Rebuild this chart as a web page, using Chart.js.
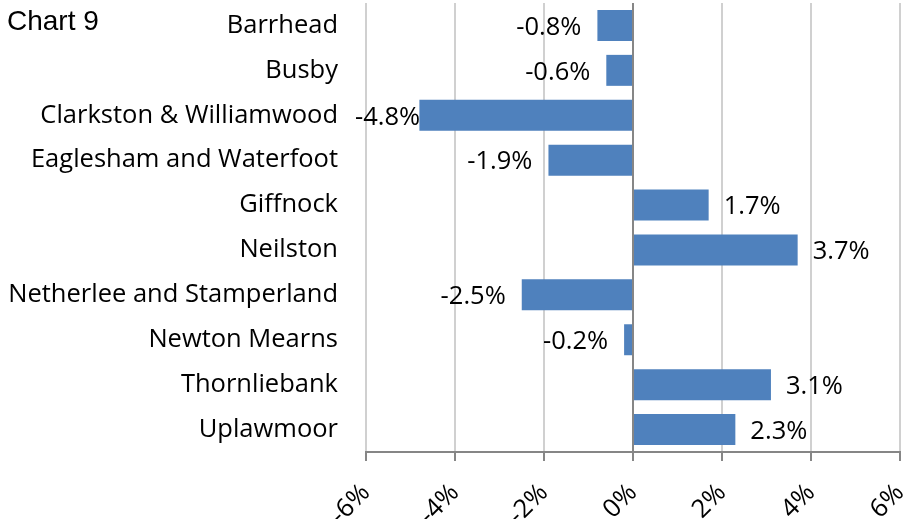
<!DOCTYPE html>
<html>
<head>
<meta charset="utf-8">
<script src="https://cdn.jsdelivr.net/npm/chart.js@4"></script>
<style>
  html, body { margin: 0; padding: 0; background: #fff; }
  #wrap { width: 904px; height: 519px; position: relative; }
</style>
</head>
<body>
<div id="wrap"><canvas id="chart"></canvas></div>
<script>
var areas = ['Barrhead', 'Busby', 'Clarkston & Williamwood', 'Eaglesham and Waterfoot', 'Giffnock',
             'Neilston', 'Netherlee and Stamperland', 'Newton Mearns', 'Thornliebank', 'Uplawmoor'];
var change = [-0.8, -0.6, -4.8, -1.9, 1.7, 3.7, -2.5, -0.2, 3.1, 2.3];
var xTicks = [-6, -4, -2, 0, 2, 4, 6];

var fontFamily = '"Open Sans", "Noto Sans", sans-serif';
var labelFont = '25.5px ' + fontFamily;

// value labels next to bar ends, plus the "Chart 9" caption
var barLabels = {
    id: 'barLabels',
    afterDatasetsDraw: function(chart) {
        var ctx = chart.ctx;
        var meta = chart.getDatasetMeta(0);
        ctx.save();
        ctx.font = labelFont;
        ctx.fillStyle = '#000';
        ctx.textBaseline = 'middle';
        meta.data.forEach(function(bar, i) {
            var v = change[i];
            var txt = v.toFixed(1) + '%';
            if (v < 0) {
                var w = ctx.measureText(txt).width;
                var x = Math.max(bar.x - 16, chart.chartArea.left - 11 + w);
                ctx.textAlign = 'right';
                ctx.fillText(txt, x, bar.y + 2);
            } else {
                ctx.textAlign = 'left';
                ctx.fillText(txt, bar.x + 15, bar.y + 2);
            }
        });
        ctx.font = '28px "Liberation Sans", Arial, sans-serif';
        ctx.textAlign = 'left';
        ctx.textBaseline = 'alphabetic';
        ctx.fillText('Chart 9', 7, 30);
        ctx.restore();
    }
};

new Chart(document.getElementById('chart'), {
    type: 'bar',
    data: {
        labels: areas,
        datasets: [{
            data: change,
            backgroundColor: '#4f81bd',
            borderWidth: 0,
            barPercentage: 0.69,
            categoryPercentage: 1.0
        }]
    },
    options: {
        indexAxis: 'y',
        responsive: true,
        maintainAspectRatio: false,
        animation: false,
        layout: { padding: { top: 3, right: 4, left: 0, bottom: 0 } },
        plugins: { legend: { display: false }, tooltip: { enabled: false } },
        scales: {
            x: {
                min: -6,
                max: 6,
                afterBuildTicks: function(scale) {
                    scale.ticks = xTicks.map(function(v) { return { value: v }; });
                },
                afterFit: function(scale) {
                    scale.height = 67;
                    scale.paddingRight = 4;
                    scale.paddingLeft = 0;
                },
                grid: {
                    color: function(c) { return c.tick && c.tick.value === 0 ? '#868686' : '#d0d0d0'; },
                    lineWidth: 2,
                    tickColor: '#868686',
                    tickLength: 9,
                    drawTicks: true
                },
                border: { display: true, color: '#868686', width: 2 },
                ticks: {
                    minRotation: 45,
                    maxRotation: 45,
                    padding: 17,
                    color: '#000',
                    font: { family: fontFamily, size: 25.5 },
                    callback: function(v) { return v + '%'; }
                }
            },
            y: {
                afterFit: function(scale) {
                    scale.width = 366;
                    scale.paddingTop = 0;
                    scale.paddingBottom = 0;
                },
                grid: { display: false },
                border: { display: false },
                ticks: {
                    padding: 20,
                    color: '#000',
                    font: { family: fontFamily, size: 25.5 }
                }
            }
        }
    },
    plugins: [barLabels]
});
</script>
</body>
</html>
